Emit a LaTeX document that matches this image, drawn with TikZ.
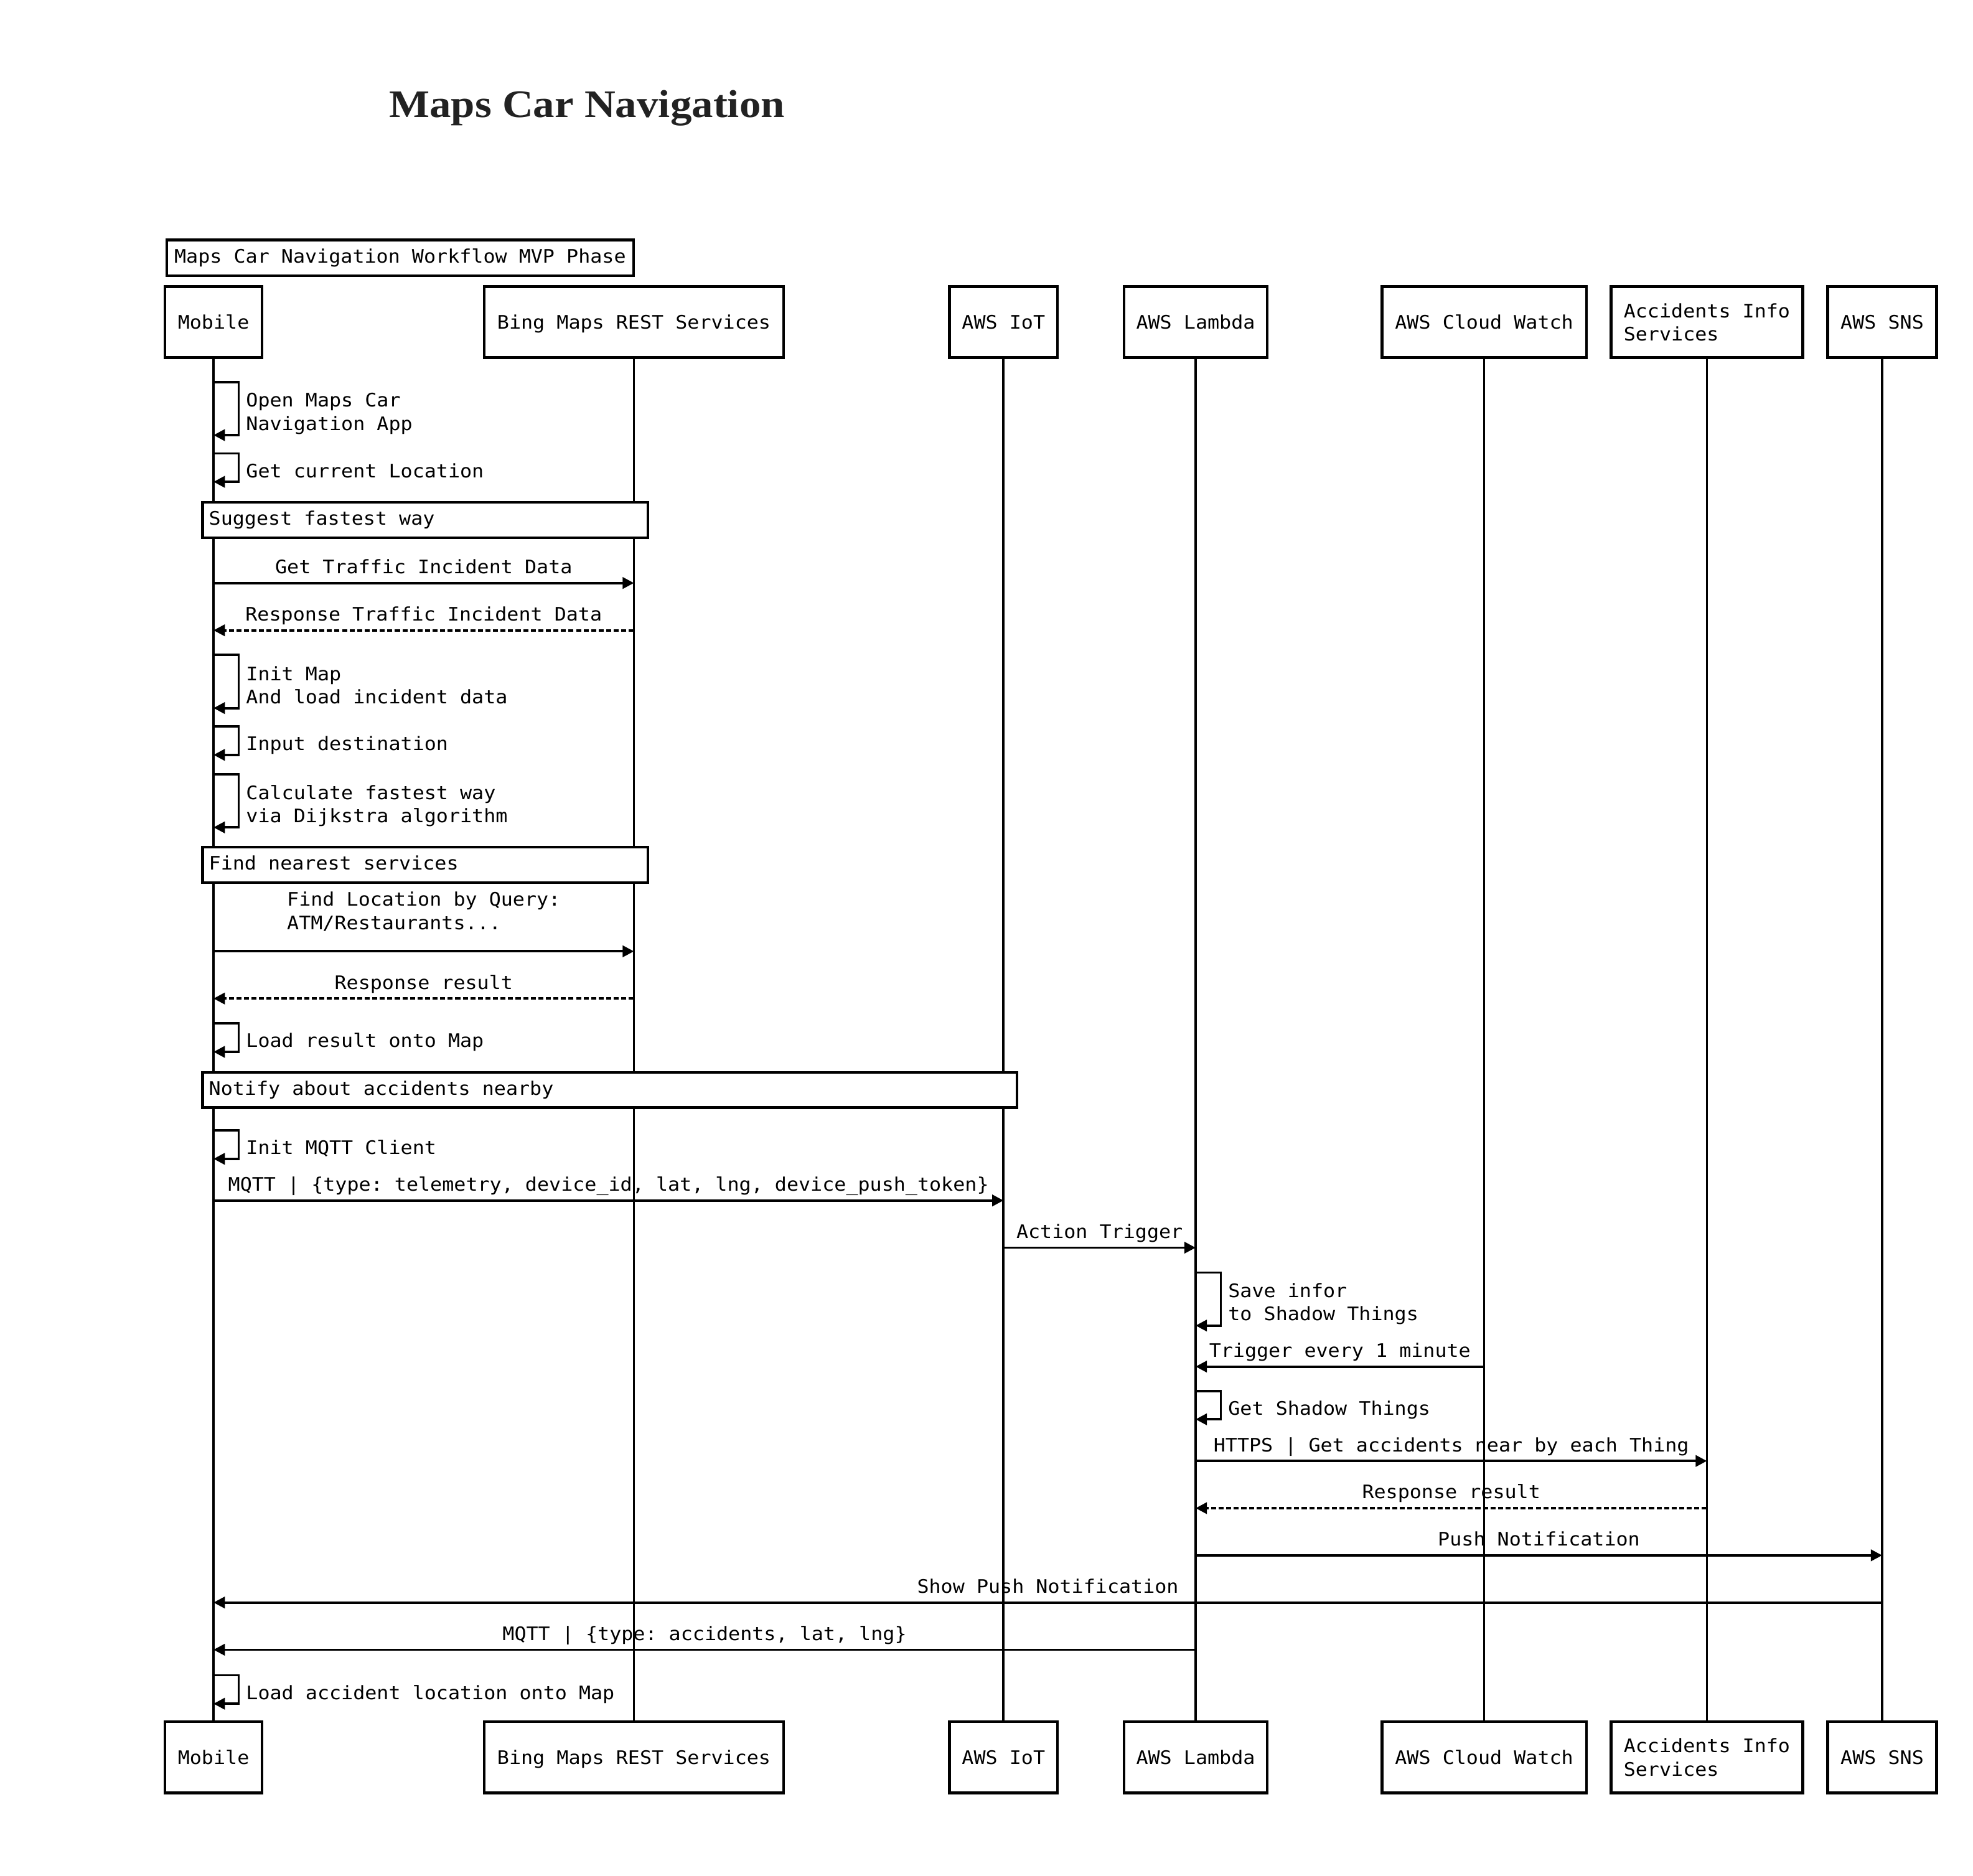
\documentclass[tikz,border=0pt]{standalone}
\usepackage{fontspec}
\setmonofont[FakeStretch=1.06]{DejaVu Sans Mono}
\newfontfamily\titlefont[FakeStretch=1.1]{Liberation Serif}
\usetikzlibrary{arrows.meta,calc}
\definecolor{titlegray}{HTML}{222222}
\newcommand{\msgfont}{\fontsize{14.8}{18.5}\selectfont\ttfamily}
\tikzset{
  part/.style={draw, line width=2.2pt, minimum height=56.5pt, inner sep=0pt, text height=11pt, text depth=0pt, fill=white},
  parttwo/.style={draw, line width=2.2pt, minimum height=56.5pt, inner xsep=10pt, inner ysep=0pt, align=left, fill=white},
  life/.style={line width=1.8pt},
  msg/.style={line width=1.9pt, -{Triangle[length=9pt,width=9pt]}},
  reply/.style={msg, dash pattern=on 4pt off 2pt},
  lbl/.style={anchor=base, yshift=7.5pt, inner sep=0pt},
  selflbl/.style={anchor=base west, inner sep=0pt},
  selflbltwo/.style={anchor=north west, inner sep=0pt, align=left},
  sect/.style={draw, fill=white, line width=2.1pt, anchor=north west, inner xsep=5pt, inner ysep=7pt, text height=11pt, text depth=3pt},
}
\begin{document}
\begin{tikzpicture}[x=1pt, y=-1pt, font=\msgfont]
\useasboundingbox[fill=white] (0,0) rectangle (1568,1490.8);

% title
\node[anchor=base, inner sep=0pt, text=titlegray, font={\titlefont\bfseries\fontsize{31}{36}\selectfont}] (title) at (466.5,93.2) {Maps Car Navigation};

% group label
\node[sect, inner xsep=6pt, inner ysep=7.2pt] (group) at (131.5,189.6) {\makebox[359pt][l]{Maps Car Navigation Workflow MVP Phase}};

% participants (top)
\node[part, minimum width=77pt] (mobT) at (169.7,256) {Mobile};
\node[part, minimum width=238pt] (bingT) at (503.8,256) {Bing Maps REST Services};
\node[part, minimum width=86pt] (iotT) at (797.5,256) {AWS IoT};
\node[part, minimum width=114pt] (lamT) at (950.2,256) {AWS Lambda};
\node[part, minimum width=162.5pt] (cwT) at (1179.5,256) {AWS Cloud Watch};
\node[parttwo] (accT) at (1356.5,256) {Accidents Info\\Services};
\node[part, minimum width=86.5pt] (snsT) at (1495.8,256) {AWS SNS};

% participants (bottom)
\node[part, minimum width=77pt] (mobB) at (169.7,1396.5) {Mobile};
\node[part, minimum width=238pt] (bingB) at (503.8,1396.5) {Bing Maps REST Services};
\node[part, minimum width=86pt] (iotB) at (797.5,1396.5) {AWS IoT};
\node[part, minimum width=114pt] (lamB) at (950.2,1396.5) {AWS Lambda};
\node[part, minimum width=162.5pt] (cwB) at (1179.5,1396.5) {AWS Cloud Watch};
\node[parttwo] (accB) at (1356.5,1396.5) {Accidents Info\\Services};
\node[part, minimum width=86.5pt] (snsB) at (1495.8,1396.5) {AWS SNS};

% lifelines
\draw[life] (mobT) -- (mobB);
\draw[life] (bingT) -- (bingB);
\draw[life] (iotT) -- (iotB);
\draw[life] (lamT) -- (lamB);
\draw[life] (cwT) -- (cwB);
\draw[life] (accT) -- (accB);
\draw[life] (snsT) -- (snsB);

% self: Open Maps Car Navigation App
\draw[msg] (mobT |- 0,303.7) -- ++(20,0) -- ++(0,42.1) -- ++(-20,0);
\node[selflbltwo] (s1) at (195.4,312.3) {Open Maps Car\\Navigation App};
% self: Get current Location
\draw[msg] (mobT |- 0,360.3) -- ++(20,0) -- ++(0,22.6) -- ++(-20,0);
\node[selflbl] (s2) at (195.4,379.4) {Get current Location};

% section
\node[sect] (sec1) at (160,398.2) {\makebox[344pt][l]{Suggest fastest way}};

\draw[msg] (mobT |- 0,463.3) -- node[lbl] (m1) {Get Traffic Incident Data} (bingT |- 0,463.3);
\draw[reply] (bingT |- 0,500.9) -- node[lbl] (m2) {Response Traffic Incident Data} (mobT |- 0,500.9);

\draw[msg] (mobT |- 0,520.3) -- ++(20,0) -- ++(0,42.4) -- ++(-20,0);
\node[selflbltwo] (s3) at (195.4,529.2) {Init Map\\And load incident data};
\draw[msg] (mobT |- 0,577.3) -- ++(20,0) -- ++(0,22.6) -- ++(-20,0);
\node[selflbl] (s4) at (195.4,596.4) {Input destination};
\draw[msg] (mobT |- 0,615.3) -- ++(20,0) -- ++(0,42.2) -- ++(-20,0);
\node[selflbltwo] (s5) at (195.4,623.6) {Calculate fastest way\\via Dijkstra algorithm};

% section
\node[sect] (sec2) at (160,672.2) {\makebox[344pt][l]{Find nearest services}};

\draw[msg] (mobT |- 0,756) -- (bingT |- 0,756);
\node[anchor=north, inner sep=0pt, align=left] (m3) at ($(mobT |- 0,708.6)!0.5!(bingT |- 0,708.6)$) {Find Location by Query:\\ATM/Restaurants...};
\draw[reply] (bingT |- 0,793.5) -- node[lbl] (m4) {Response result} (mobT |- 0,793.5);

\draw[msg] (mobT |- 0,813.3) -- ++(20,0) -- ++(0,22.6) -- ++(-20,0);
\node[selflbl] (s6) at (195.4,832.4) {Load result onto Map};

% section
\node[sect] (sec3) at (160,851.2) {\makebox[637pt][l]{Notify about accidents nearby}};

\draw[msg] (mobT |- 0,898.3) -- ++(20,0) -- ++(0,22.6) -- ++(-20,0);
\node[selflbl] (s7) at (195.4,917.4) {Init MQTT Client};

\draw[msg] (mobT |- 0,954) -- node[lbl] (m5) {MQTT | \{type: telemetry, device\_id, lat, lng, device\_push\_token\}} (iotT |- 0,954);
\draw[msg] (iotT |- 0,991.5) -- node[lbl] (m6) {Action Trigger} (lamT |- 0,991.5);

\draw[msg] (lamT |- 0,1011.3) -- ++(20,0) -- ++(0,42.1) -- ++(-20,0);
\node[selflbltwo] (s8) at (975.9,1019.4) {Save infor\\to Shadow Things};

\draw[msg] (cwT |- 0,1086) -- node[lbl] (m7) {Trigger every 1 minute} (lamT |- 0,1086);

\draw[msg] (lamT |- 0,1105.3) -- ++(20,0) -- ++(0,22.6) -- ++(-20,0);
\node[selflbl] (s9) at (975.9,1124.4) {Get Shadow Things};

\draw[msg] (lamT |- 0,1161) -- node[lbl] (m8) {HTTPS | Get accidents near by each Thing} (accT |- 0,1161);
\draw[reply] (accT |- 0,1198.5) -- node[lbl] (m9) {Response result} (lamT |- 0,1198.5);
\draw[msg] (lamT |- 0,1236) -- node[lbl] (m10) {Push Notification} (snsT |- 0,1236);
\draw[msg] (snsT |- 0,1273.5) -- node[lbl] (m11) {Show Push Notification} (mobT |- 0,1273.5);
\draw[msg] (lamT |- 0,1311) -- node[lbl] (m12) {MQTT | \{type: accidents, lat, lng\}} (mobT |- 0,1311);

\draw[msg] (mobT |- 0,1331.3) -- ++(20,0) -- ++(0,22.6) -- ++(-20,0);
\node[selflbl] (s10) at (195.4,1350.4) {Load accident location onto Map};
\end{tikzpicture}
\end{document}
